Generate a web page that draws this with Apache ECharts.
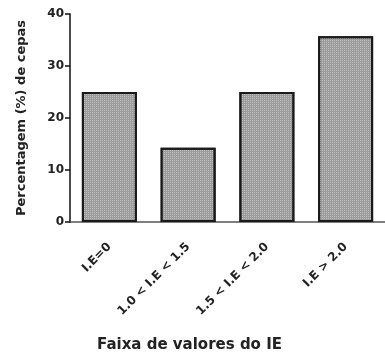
<!DOCTYPE html>
<html>
<head>
<meta charset="utf-8">
<script src="https://cdn.jsdelivr.net/npm/echarts@6/dist/echarts.min.js"></script>
<style>html,body{margin:0;padding:0;background:#fff;}#c{width:385px;height:358px;}</style>
</head>
<body>
<div id="c"></div>
<script>
var categories = ['I.E=0', '1.0 < I.E < 1.5', '1.5 < I.E < 2.0', 'I.E > 2.0'];
var values = [25, 14.3, 25, 35.7];
var yTicks = [0, 10, 20, 30, 40];

var chart = echarts.init(document.getElementById('c'), null, {renderer: 'canvas'});
var font = '"DejaVu Sans", Arial, sans-serif';
chart.setOption({
  animation: false,
  backgroundColor: '#fff',
  grid: {left: 70, top: 14, width: 322, height: 213, containLabel: false},
  xAxis: {
    type: 'category',
    data: categories,
    name: 'Faixa de valores do IE',
    nameLocation: 'middle',
    nameGap: 116,
    nameTextStyle: {fontFamily: font, fontWeight: 'bold', fontSize: 15, color: '#222', padding: [0, 76, 0, 0]},
    axisLine: {lineStyle: {color: '#555', width: 1.5}},
    axisTick: {alignWithLabel: true, length: 5, lineStyle: {color: '#333', width: 1.5}},
    axisLabel: {rotate: 45, margin: 23, fontFamily: font, fontWeight: 'bold', fontSize: 12, color: '#222', interval: 0}
  },
  yAxis: {
    type: 'value',
    min: yTicks[0], max: yTicks[yTicks.length - 1], interval: 10,
    name: 'Percentagem (%) de cepas',
    nameLocation: 'middle',
    nameGap: 42,
    nameTextStyle: {fontFamily: font, fontWeight: 'bold', fontSize: 13, color: '#222'},
    axisLine: {show: true, lineStyle: {color: '#111', width: 1.5}},
    axisTick: {show: true, length: 5, lineStyle: {color: '#111', width: 1.5}},
    axisLabel: {fontFamily: font, fontWeight: 'bold', fontSize: 12, color: '#222', margin: 6},
    splitLine: {show: false}
  },
  series: [{
    type: 'bar',
    data: values,
    barWidth: 55,
    itemStyle: {
      color: '#9c9c9c',
      borderColor: '#1a1a1a',
      borderWidth: 2,
      decal: {symbol: 'rect', symbolSize: 1, dashArrayX: [1, 1], dashArrayY: [1, 1], color: 'rgba(255,255,255,0.35)'}
    }
  }]
});
</script>
</body>
</html>
